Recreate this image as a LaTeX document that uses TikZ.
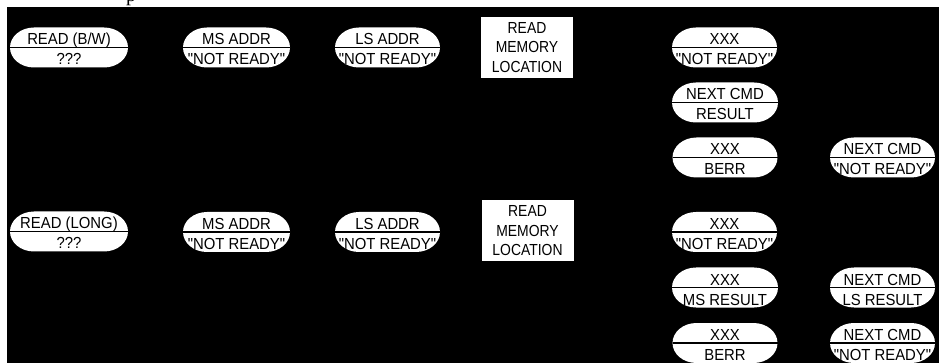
\documentclass[tikz,border=0pt]{standalone}
\usepackage{fontspec}
\setmainfont{Liberation Sans}
\newfontfamily\labfont[FakeStretch=0.93]{Liberation Sans}
\newfontfamily\boxfont[FakeStretch=0.87]{Liberation Sans}
\newfontfamily\capfont{Liberation Serif}
\tikzset{
  divider/.style={line width=1.4pt, draw=black},
  ovaltext/.style={font=\labfont\fontsize{16}{19.5}\selectfont, inner sep=0pt, text=black, anchor=base},
  ovalframe/.style={draw=none, inner sep=0pt, outer sep=0pt, minimum height=40pt},
  membox/.style={fill=white, inner sep=0pt, outer sep=0pt, minimum width=92pt, minimum height=61pt,
     align=center, font=\boxfont\fontsize{16}{19.5}\selectfont},
  bgpanel/.style={fill=black},
}
\newcommand\ovalnode[6]{%
  \node[ovalframe, minimum width=#4pt] (#1) at (#2,#3) {};
  \fill[white] ([xshift=24pt]#1.north west) -- ([xshift=-24pt]#1.north east)
     arc[start angle=90, end angle=-90, x radius=24pt, y radius=20pt]
     -- ([xshift=24pt]#1.south west)
     arc[start angle=270, end angle=90, x radius=24pt, y radius=20pt] -- cycle;
  \draw[divider] (#1.west) -- (#1.east);
  \node[ovaltext] (#1-top) at ([yshift=2.5pt]#1.center) {#5};
  \node[ovaltext] (#1-bot) at ([yshift=-17.5pt]#1.center) {#6};
}
\begin{document}
\begin{tikzpicture}[x=1pt,y=-1pt]
  \useasboundingbox (0,0) rectangle (939,363);
  \fill[bgpanel] (7,7) rectangle (939,363);
  \node[inner sep=0pt, anchor=base, font=\capfont\fontsize{20}{24}\selectfont] (capfrag) at (131,1.2) {p};
  % upper group
  \ovalnode{readbw}{69}{47.5}{118}{READ (B/W)}{???}
  \ovalnode{msaddrA}{236.5}{47.5}{107}{MS ADDR}{"NOT READY"}
  \ovalnode{lsaddrA}{387.5}{47.5}{105}{LS ADDR}{"NOT READY"}
  \node[membox] (memA) at (527,47.5) {READ\\MEMORY\\LOCATION};
  \ovalnode{xxxA}{724.5}{47.5}{105}{XXX}{"NOT READY"}
  \ovalnode{nextres}{725}{102.5}{106}{NEXT CMD}{RESULT}
  \ovalnode{berrA}{725}{157.5}{105}{XXX}{BERR}
  \ovalnode{nextnrA}{882.5}{157.5}{105}{NEXT CMD}{"NOT READY"}
  % lower group
  \ovalnode{readlong}{69}{231.5}{118}{READ (LONG)}{???}
  \ovalnode{msaddrB}{236.5}{232}{107}{MS ADDR}{"NOT READY"}
  \ovalnode{lsaddrB}{387.5}{232}{105}{LS ADDR}{"NOT READY"}
  \node[membox] (memB) at (527.5,231) {READ\\MEMORY\\LOCATION};
  \ovalnode{xxxB}{724.5}{232}{105}{XXX}{"NOT READY"}
  \ovalnode{msres}{725}{287.5}{106}{XXX}{MS RESULT}
  \ovalnode{berrB}{725}{343}{105}{XXX}{BERR}
  \ovalnode{nextls}{882.5}{287.5}{105}{NEXT CMD}{LS RESULT}
  \ovalnode{nextnrB}{882.5}{343}{105}{NEXT CMD}{"NOT READY"}
\end{tikzpicture}
\end{document}
